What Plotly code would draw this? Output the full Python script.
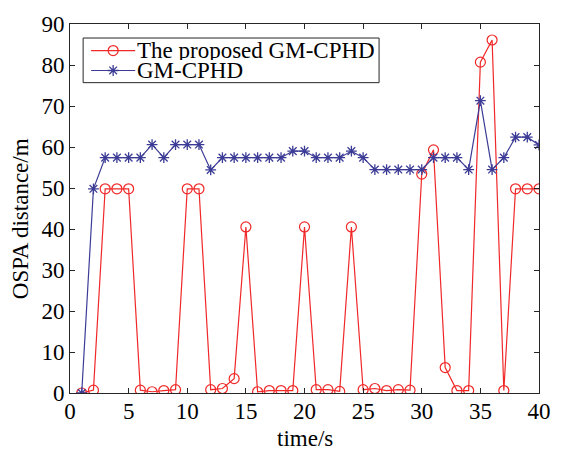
import plotly.graph_objects as go

# OSPA distance per time step for the two filters
time_s = list(range(1, 41))
proposed_gm_cphd = [
    0.0, 0.7, 49.8, 49.8, 49.8, 0.7, 0.3, 0.6, 0.8, 49.8,
    49.8, 0.8, 1.1, 3.5, 40.5, 0.3, 0.6, 0.6, 0.6, 40.5,
    0.8, 0.8, 0.4, 40.5, 0.8, 1.1, 0.6, 0.8, 0.7, 53.4,
    59.3, 6.2, 0.6, 0.6, 80.7, 86.1, 0.6, 49.8, 49.8, 49.8,
]
gm_cphd = [
    0.0, 49.8, 57.4, 57.4, 57.4, 57.4, 60.6, 57.4, 60.6, 60.6,
    60.6, 54.4, 57.4, 57.4, 57.4, 57.4, 57.4, 57.4, 59.0, 59.0,
    57.4, 57.4, 57.4, 59.0, 57.4, 54.5, 54.5, 54.5, 54.5, 54.5,
    57.4, 57.4, 57.4, 54.5, 71.3, 54.5, 57.4, 62.4, 62.4, 60.5,
]
series_names = ["The proposed GM-CPHD", "GM-CPHD"]
x_ticks = [0, 5, 10, 15, 20, 25, 30, 35, 40]
y_ticks = [0, 10, 20, 30, 40, 50, 60, 70, 80, 90]

RED = "#f02828"
BLUE = "#3c3c96"
AXIS = "#262626"
FONT = "Liberation Serif, Times New Roman, serif"

red_marker = dict(symbol="circle-open", size=10, color=RED, line=dict(width=1.2, color=RED))
blue_marker = dict(symbol="asterisk-open", size=9, color=BLUE, line=dict(width=1.3, color=BLUE))

fig = go.Figure()
fig.add_trace(go.Scatter(
    x=time_s, y=proposed_gm_cphd, mode="lines+markers", name=series_names[0],
    line=dict(color=RED, width=1.2), marker=red_marker, showlegend=False,
))
fig.add_trace(go.Scatter(
    x=time_s, y=gm_cphd, mode="lines+markers", name=series_names[1],
    line=dict(color=BLUE, width=1.2), marker=blue_marker, showlegend=False,
))

# Boxed legend in the upper-left corner, laid out in plot-area fractions
box = dict(x0=0.028, x1=0.659, y0=0.841, y1=0.962)
rows = [0.928, 0.874]
sample_x = [0.045, 0.092, 0.139]
fig.add_shape(type="rect", xref="paper", yref="paper", **box,
              line=dict(color=AXIS, width=1), fillcolor="white", layer="below")
for name, yrow, color, marker in zip(series_names, rows, [RED, BLUE], [red_marker, blue_marker]):
    fig.add_trace(go.Scatter(
        x=[sample_x[0], sample_x[2]], y=[yrow, yrow], mode="lines",
        line=dict(color=color, width=1.2), xaxis="x2", yaxis="y2",
        showlegend=False, hoverinfo="skip",
    ))
    fig.add_trace(go.Scatter(
        x=[sample_x[1]], y=[yrow], mode="markers", marker=marker,
        xaxis="x2", yaxis="y2", showlegend=False, hoverinfo="skip",
    ))
    fig.add_annotation(x=0.141, y=yrow, xref="paper", yref="paper", text=name,
                       showarrow=False, xanchor="left", yanchor="middle",
                       height=19, valign="middle", borderpad=0,
                       font=dict(family=FONT, size=23, color="black"))

# Axis titles
fig.add_annotation(x=0.5, y=-0.122, xref="paper", yref="paper", text="time/s",
                   showarrow=False, xanchor="center", yanchor="middle",
                   height=20, borderpad=0,
                   font=dict(family=FONT, size=23, color="black"))
fig.add_annotation(x=-0.105, y=0.473, xref="paper", yref="paper", text="OSPA distance/m",
                   showarrow=False, textangle=-90, xanchor="center", yanchor="middle",
                   font=dict(family=FONT, size=23, color="black"))

axis_common = dict(
    showline=True, linecolor=AXIS, linewidth=1, mirror="ticks",
    ticks="inside", ticklen=5, tickwidth=1, tickcolor=AXIS,
    showgrid=False, zeroline=False,
    tickfont=dict(family=FONT, size=23, color="black"),
)
fig.update_layout(
    width=563, height=449,
    margin=dict(l=70, r=14, t=21, b=56),
    paper_bgcolor="white", plot_bgcolor="white",
    xaxis=dict(range=[0, 40], tickvals=x_ticks, ticklabelstandoff=-3, **axis_common),
    yaxis=dict(range=[0, 90], tickvals=y_ticks, ticklabelstandoff=0, **axis_common),
    xaxis2=dict(range=[0, 1], overlaying="x", visible=False, fixedrange=True),
    yaxis2=dict(range=[0, 1], overlaying="y", visible=False, fixedrange=True),
    showlegend=False,
)

fig.write_html("out.html")
